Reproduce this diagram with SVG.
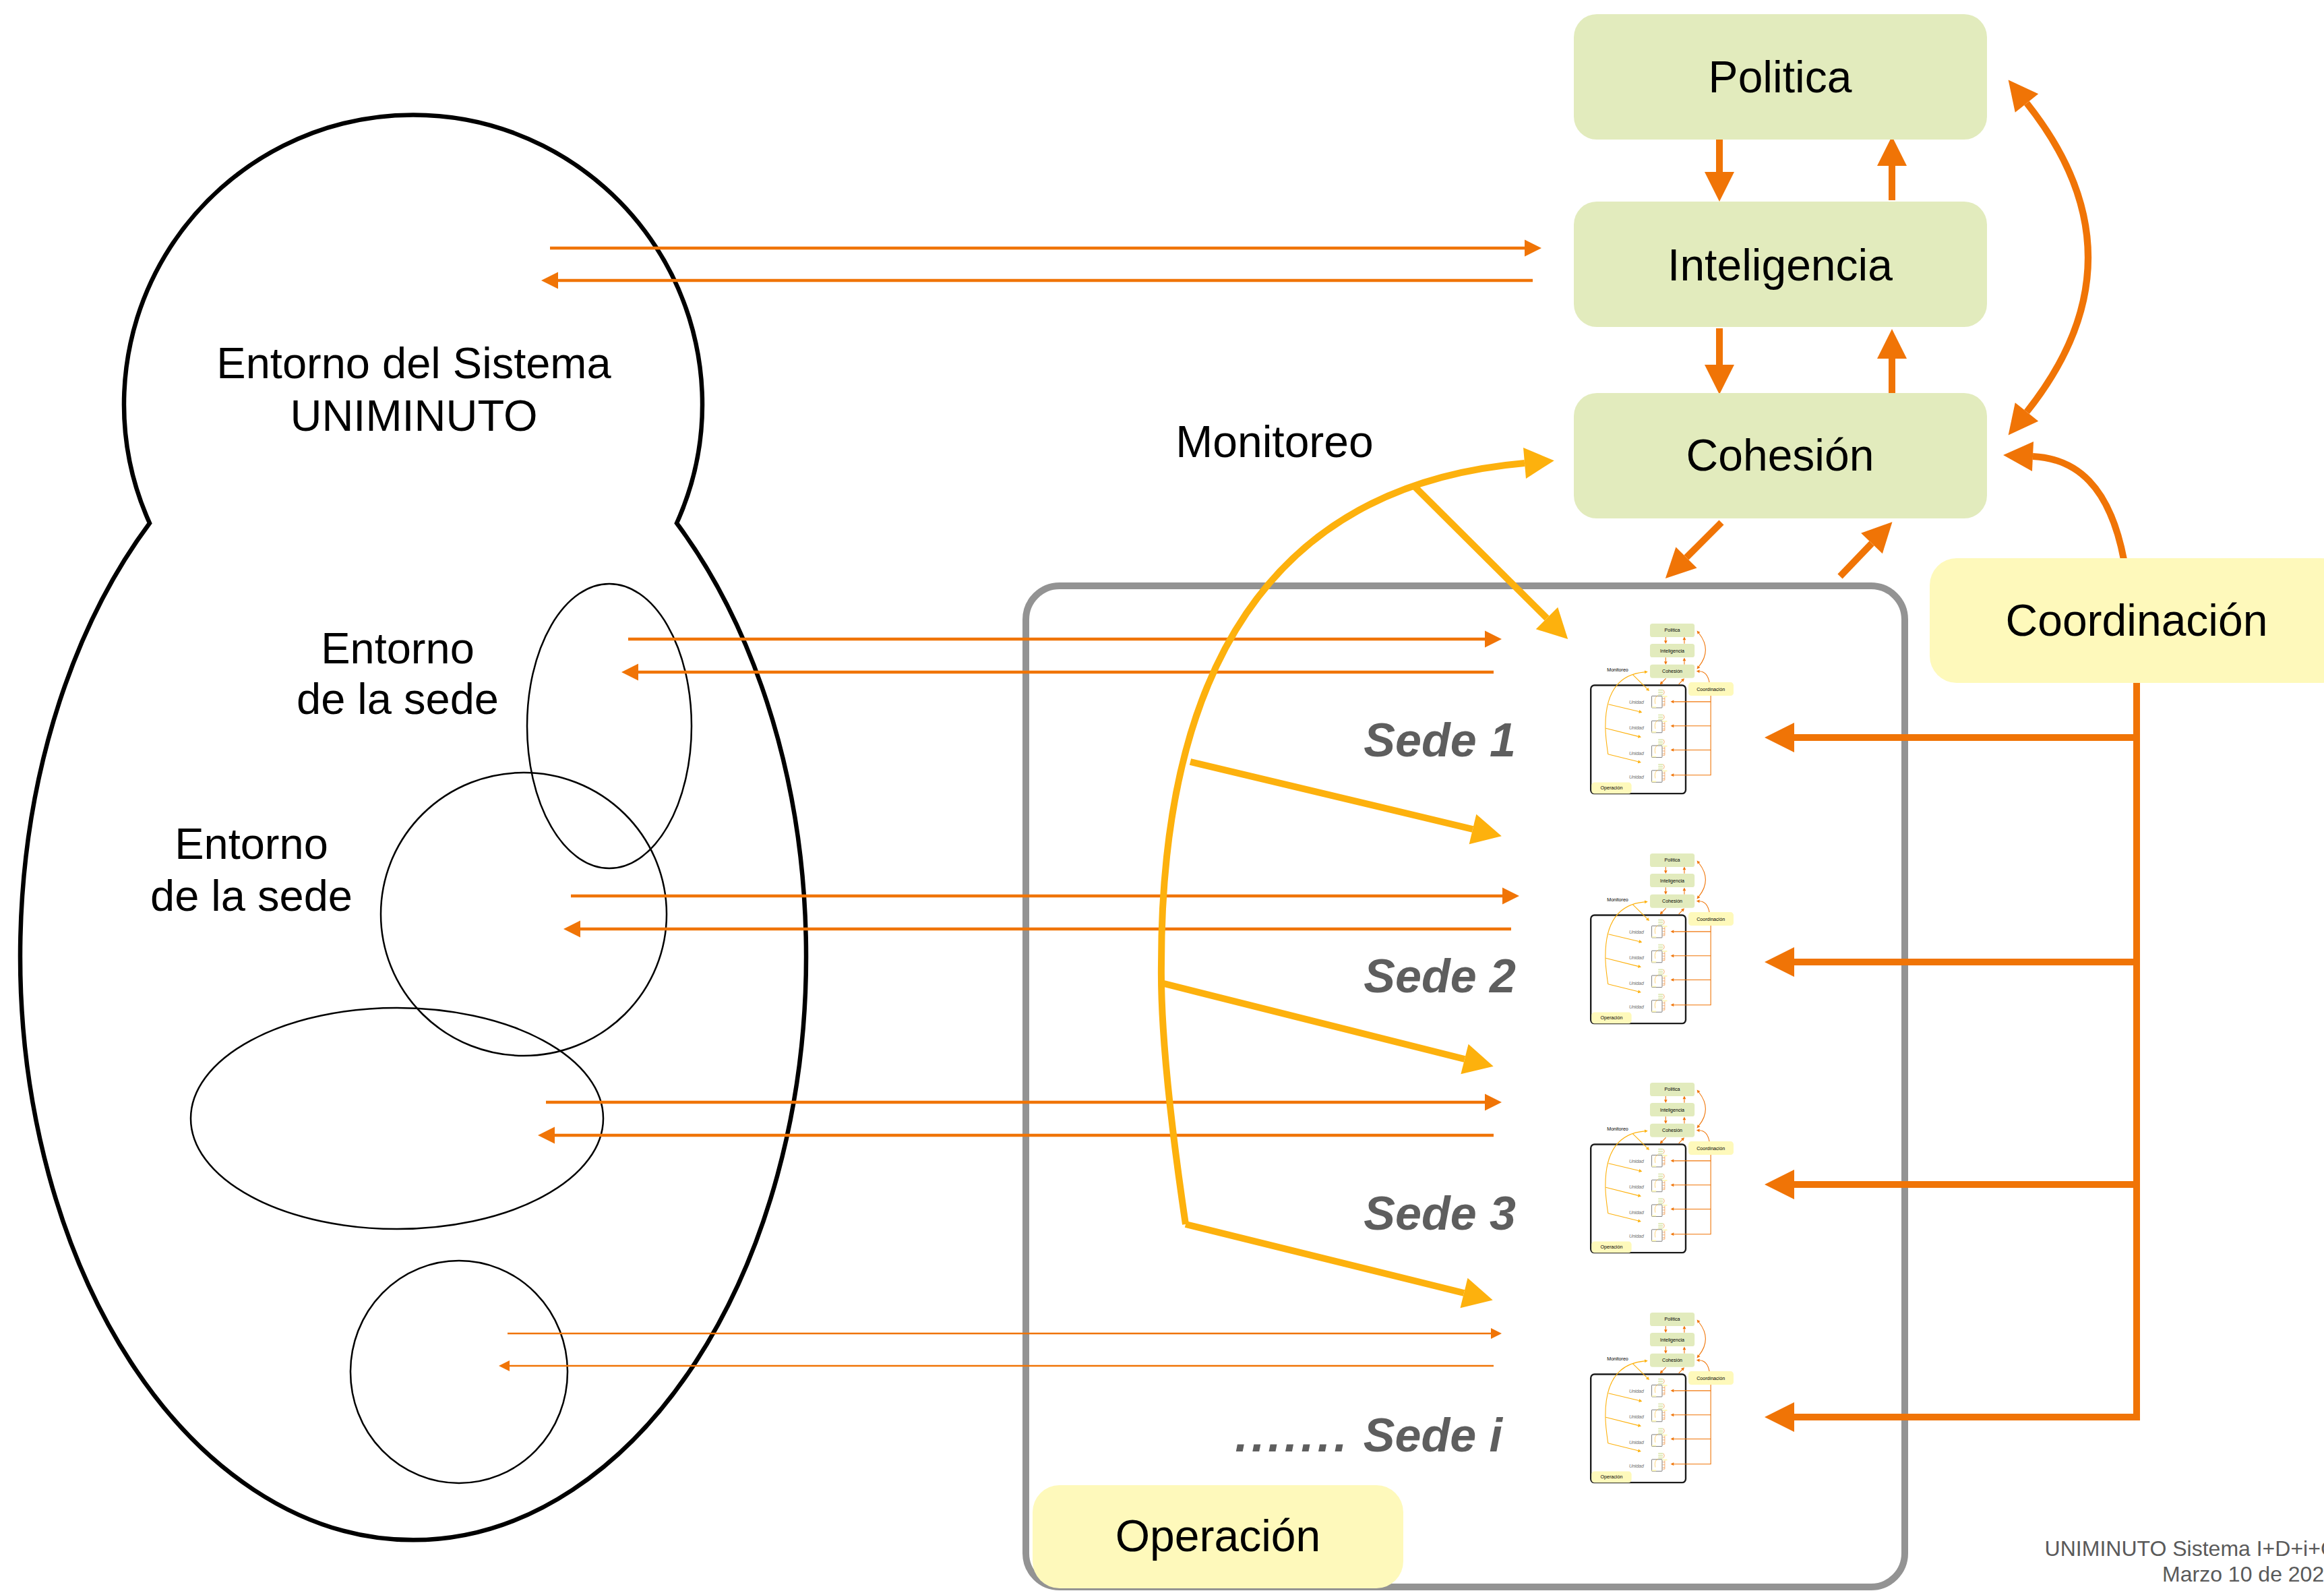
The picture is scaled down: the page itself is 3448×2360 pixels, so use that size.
<svg xmlns="http://www.w3.org/2000/svg" xmlns:xlink="http://www.w3.org/1999/xlink" width="3448" height="2360" viewBox="0 0 3448 2360">
<style>
.t{font-family:"Liberation Sans",Arial,Helvetica,sans-serif;}
.lbl{font-size:66px;fill:#000;text-anchor:middle;}
.env{font-size:65px;fill:#000;text-anchor:middle;}
.sede{font-size:70px;font-weight:bold;font-style:italic;fill:#5E5E5E;text-anchor:end;}
.unidad{font-size:64px;font-style:italic;fill:#6A6A6A;text-anchor:end;}
.foot{font-size:32px;fill:#5A5A5A;text-anchor:end;}
.gbox{fill:#E2EBBD;}
.ybox{fill:#FEF9BB;}
.or{stroke:#F07406;stroke-width:10;fill:none;}
.yl{stroke:#FDB10D;stroke-width:10;fill:none;}
.thin{stroke:#F07406;stroke-width:4.5;fill:none;}
.thinner{stroke:#F07406;stroke-width:2.5;fill:none;}
.blk{stroke:#000;fill:none;}
</style>
<defs>
<marker id="mo" viewBox="0 0 44 44" refX="0" refY="22" markerWidth="44" markerHeight="44" markerUnits="userSpaceOnUse" orient="auto-start-reverse" overflow="visible"><path d="M0,0 L44,22 L0,44 Z" fill="#F07406"/></marker>
<marker id="my" viewBox="0 0 44 46" refX="0" refY="23" markerWidth="44" markerHeight="46" markerUnits="userSpaceOnUse" orient="auto" overflow="visible"><path d="M0,0 L44,23 L0,46 Z" fill="#FDB10D"/></marker>
<marker id="mt" viewBox="0 0 25 25" refX="0" refY="12.5" markerWidth="25" markerHeight="25" markerUnits="userSpaceOnUse" orient="auto" overflow="visible"><path d="M0,0 L25,12.5 L0,25 Z" fill="#F07406"/></marker>
<marker id="mtt" viewBox="0 0 16 16" refX="0" refY="8" markerWidth="16" markerHeight="16" markerUnits="userSpaceOnUse" orient="auto" overflow="visible"><path d="M0,0 L16,8 L0,16 Z" fill="#F07406"/></marker>
<g id="mini2">
<rect x="0" y="0" width="66" height="20" rx="4" class="gbox"/>
<rect x="0" y="31" width="66" height="20" rx="4" class="gbox"/>
<rect x="0" y="61" width="66" height="20" rx="4" class="gbox"/>
<rect x="-89" y="91" width="143" height="162" rx="6" fill="#fff" stroke="#555" stroke-width="7"/>
<rect x="58" y="88" width="66" height="19" rx="4" class="ybox"/>
<rect x="-88" y="235" width="60" height="17" rx="4" class="ybox"/>
<path d="M72,8 Q98,40 72,70 M90,107 V224 H60 M90,128 H60 M90,165 H60 M90,202 H60" stroke="#F07406" stroke-width="5" fill="none"/>
<path d="M-40,200 Q-60,110 -5,85" stroke="#FDB10D" stroke-width="5" fill="none"/>
</g>
<g id="mini">
<rect x="1522" y="869" width="1304" height="1487" rx="50" fill="#fff" stroke="#1C1C1C" stroke-width="22"/>
<use href="#operacion"/>
<use href="#core-connectors"/>
<use href="#politica"/>
<use href="#inteligencia"/>
<use href="#cohesion"/>
<use href="#coordinacion"/>
<use href="#monitoreo"/>
<text class="t unidad" x="2250" y="1122">Unidad</text>
<text class="t unidad" x="2250" y="1472">Unidad</text>
<text class="t unidad" x="2250" y="1824">Unidad</text>
<text class="t unidad" x="2250" y="2153">Unidad</text>
<use href="#mini2" x="2448" y="925"/>
<use href="#mini2" x="2448" y="1266"/>
<use href="#mini2" x="2448" y="1606"/>
<use href="#mini2" x="2448" y="1947"/>
</g>
</defs>

<rect x="0" y="0" width="3448" height="2360" fill="#fff"/>

<g id="entorno-sistema">
<path class="blk" stroke-width="6.5" d="M222,776 A429,429 0 1 1 1004,776 A583,866 0 1 1 222,776 Z"/>
<text class="t env" x="614" y="561">Entorno del Sistema</text>
<text class="t env" x="614" y="639">UNIMINUTO</text>
</g>
<g id="entorno-sede-1">
<ellipse class="blk" stroke-width="2.5" cx="904" cy="1077" rx="122" ry="211"/>
<text class="t env" x="590" y="984">Entorno</text>
<text class="t env" x="590" y="1059">de la sede</text>
</g>
<g id="entorno-sede-2">
<ellipse class="blk" stroke-width="2.5" cx="777" cy="1356" rx="212" ry="210"/>
<text class="t env" x="373" y="1274">Entorno</text>
<text class="t env" x="373" y="1351">de la sede</text>
</g>
<g id="entorno-sede-3">
<ellipse class="blk" stroke-width="2.5" cx="589" cy="1659" rx="306" ry="164"/>
</g>
<g id="entorno-sede-i">
<ellipse class="blk" stroke-width="2.5" cx="681" cy="2035" rx="161" ry="165"/>
</g>

<g id="operacion-frame">
<rect x="1522" y="869" width="1304" height="1485" rx="50" fill="none" stroke="#939393" stroke-width="10"/>
</g>

<g id="connectors">
<g id="env-connectors">
<path class="thin" d="M816,368 H2262" marker-end="url(#mt)"/>
<path class="thin" d="M2274,416 H828" marker-end="url(#mt)"/>
<path class="thin" d="M932,948 H2203" marker-end="url(#mt)"/>
<path class="thin" d="M2216,997 H947" marker-end="url(#mt)"/>
<path class="thin" d="M847,1329 H2229" marker-end="url(#mt)"/>
<path class="thin" d="M2242,1378 H861" marker-end="url(#mt)"/>
<path class="thin" d="M810,1635 H2203" marker-end="url(#mt)"/>
<path class="thin" d="M2216,1684 H823" marker-end="url(#mt)"/>
<path class="thinner" d="M753,1978 H2212" marker-end="url(#mtt)"/>
<path class="thinner" d="M2216,2026 H756" marker-end="url(#mtt)"/>
</g>
<g id="core-connectors">
<path class="or" d="M2551,205 V255" marker-end="url(#mo)"/>
<path class="or" d="M2807,297 V246" marker-end="url(#mo)"/>
<path class="or" d="M2551,487 V541" marker-end="url(#mo)"/>
<path class="or" d="M2807,583 V532" marker-end="url(#mo)"/>
<path class="or" d="M3007,153 Q3189,382 3007,611" marker-start="url(#mo)" marker-end="url(#mo)"/>
<path class="or" d="M3151,830 C3130,720 3080,680 3016,677" marker-end="url(#mo)"/>
<path class="or" d="M3170,1013 V2102 H2662" marker-end="url(#mo)"/>
<path class="or" d="M3170,1094 H2662" marker-end="url(#mo)"/>
<path class="or" d="M3170,1427 H2662" marker-end="url(#mo)"/>
<path class="or" d="M3170,1757 H2662" marker-end="url(#mo)"/>
<path class="or" d="M2554,775 L2502,827" marker-end="url(#mo)"/>
<path class="or" d="M2730,855 L2777,806" marker-end="url(#mo)"/>
<path class="yl" d="M1759,1816 Q1721,1560 1723,1430 C1723,1000 1880,720 2262,687" marker-end="url(#my)"/>
<path class="yl" d="M2098,721 L2295,917" marker-end="url(#my)"/>
<path class="yl" d="M1766,1130 L2185,1230" marker-end="url(#my)"/>
<path class="yl" d="M1727,1459 L2173,1571" marker-end="url(#my)"/>
<path class="yl" d="M1759,1816 L2172,1918" marker-end="url(#my)"/>
</g>
</g>

<g id="politica">
<rect class="gbox" x="2335" y="21" width="613" height="186" rx="34"/>
<text class="t lbl" x="2641" y="137">Politica</text>
</g>
<g id="inteligencia">
<rect class="gbox" x="2335" y="299" width="613" height="186" rx="34"/>
<text class="t lbl" x="2641" y="416">Inteligencia</text>
</g>
<g id="cohesion">
<rect class="gbox" x="2335" y="583" width="613" height="186" rx="34"/>
<text class="t lbl" x="2641" y="698">Cohesión</text>
</g>
<g id="coordinacion">
<rect class="ybox" x="2863" y="828" width="620" height="185" rx="40"/>
<text class="t lbl" x="3170" y="943">Coordinación</text>
</g>
<g id="operacion">
<rect class="ybox" x="1532" y="2203" width="550" height="153" rx="40"/>
<text class="t lbl" x="1807" y="2301">Operación</text>
</g>
<g id="monitoreo">
<text class="t lbl" x="1891" y="678">Monitoreo</text>
</g>

<g id="sede-1">
<text class="t sede" x="2249" y="1122">Sede 1</text>
<use href="#mini" transform="translate(2195.8,922.7) scale(0.108)"/>
</g>
<g id="sede-2">
<text class="t sede" x="2249" y="1472">Sede 2</text>
<use href="#mini" transform="translate(2195.8,1263.7) scale(0.108)"/>
</g>
<g id="sede-3">
<text class="t sede" x="2249" y="1824">Sede 3</text>
<use href="#mini" transform="translate(2195.8,1603.7) scale(0.108)"/>
</g>
<g id="sede-i">
<text class="t sede" x="2229" y="2153"><tspan letter-spacing="5">.......</tspan> Sede i</text>
<use href="#mini" transform="translate(2195.8,1944.7) scale(0.108)"/>
</g>

<g id="footer">
<text class="t foot" x="3466" y="2308">UNIMINUTO Sistema I+D+i+C</text>
<text class="t foot" x="3466" y="2346">Marzo 10 de 2020</text>
</g>
</svg>
